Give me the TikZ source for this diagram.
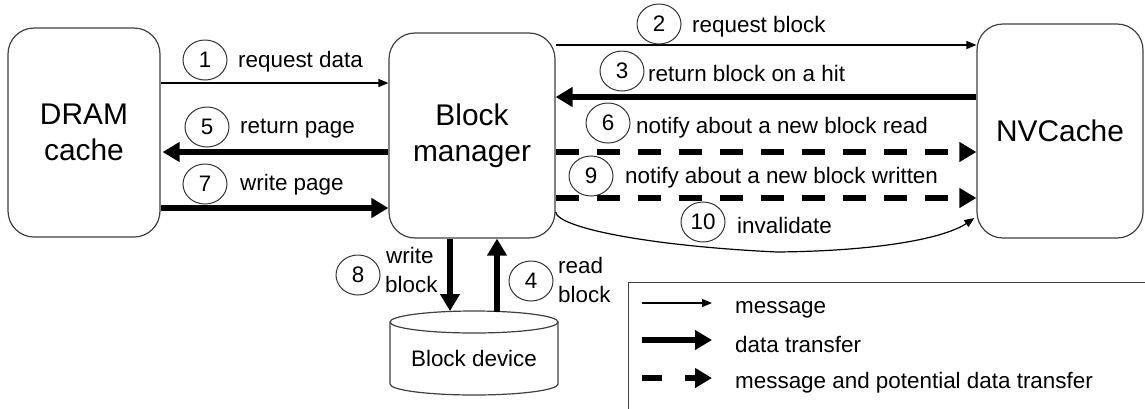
\documentclass[tikz,border=0pt]{standalone}
\usepackage{fontspec}
\setmainfont{Liberation Sans}
\usetikzlibrary{arrows.meta,shapes.geometric}
\begin{document}
\begin{tikzpicture}[x=1bp,y=-1bp,
  box/.style={draw=black!75, line width=1.2bp, rounded corners=26bp, inner sep=0pt, align=center, font=\fontsize{30}{36}\selectfont},
  num/.style={draw=black!80, line width=1bp, ellipse, minimum width=44bp, minimum height=40bp, inner sep=0pt, font=\fontsize{22.5}{26}\selectfont},
  lbl/.style={anchor=base west, inner sep=0pt, font=\fontsize{22.5}{26}\selectfont},
  msg/.style={line width=1.2bp, -{Triangle[length=10bp,width=8bp]}},
  data/.style={line width=6.5bp, -{Triangle[length=17bp,width=19bp]}},
  dashd/.style={data, dash pattern=on 23bp off 18bp},
  outline/.style={draw=black!75, line width=1.2bp}
]
\fill[white] (0,0) rectangle (1145,408);
\useasboundingbox (0,0) rectangle (1145,408);
\clip (0,0) rectangle (1145,408);

% main boxes
\node[box, minimum width=152bp, minimum height=209bp] (dram) at (84,132.5) {DRAM\\cache};
\node[box, minimum width=166bp, minimum height=205bp] (bm) at (472,135.5) {Block\\manager};
\node[box, minimum width=166bp, minimum height=214bp] (nv) at (1060,131) {NVCache};

% block device cylinder
\draw[outline] (390,322) -- (390,384) .. controls (390,390.08) and (427.6,395) .. (474,395)
  .. controls (520.4,395) and (558,390.08) .. (558,384) -- (558,322);
\draw[outline] (474,322) ellipse [x radius=84, y radius=11];
\node[font=\fontsize{22.5}{27}\selectfont] (bd) at (474,358) {Block device};
\coordinate (bd8) at (450,311);
\coordinate (bd4) at (497,312);

% connectors
\draw[msg] (dram.east |- 0,83) -- (bm.west |- 0,83);
\draw[data, shorten >=2bp] (bm.west |- 0,152) -- (dram.east |- 0,152);
\draw[data] (dram.east |- 0,208) -- (bm.west |- 0,208);
\draw[msg] (bm.east |- 0,45) -- (nv.west |- 0,45);
\draw[data] (nv.west |- 0,97) -- (bm.east |- 0,97);
\draw[dashd] (bm.east |- 0,152) -- (nv.west |- 0,152);
\draw[dashd] (bm.east |- 0,198) -- (nv.west |- 0,198);
\draw[msg] (bm.east |- 0,212) .. controls (558,228) and (650,246) .. (777,252)
  .. controls (880,251) and (945,238) .. ([xshift=-2bp]nv.west |- 0,218);
\draw[data] (bm.south -| bd8) -- (bd8);
\draw[data] (bd4) -- (bm.south -| bd4);

% step numbers and labels
\node[num] (n1) at (205,60) {1};
\node[lbl] (t1) at (238,67) {request data};
\node[num] (n5) at (207,127) {5};
\node[lbl] (t5) at (240,133) {return page};
\node[num] (n7) at (205,184) {7};
\node[lbl] (t7) at (240,190) {write page};
\node[num] (n2) at (659,24) {2};
\node[lbl] (t2) at (692,32) {request block};
\node[num] (n3) at (622,71) {3};
\node[lbl] (t3) at (648,81) {return block on a hit};
\node[num] (n6) at (608,123) {6};
\node[lbl] (t6) at (636,133) {notify about a new block read};
\node[num] (n9) at (591,176) {9};
\node[lbl] (t9) at (625,183) {notify about a new block written};
\node[num] (n10) at (703,222) {10};
\node[lbl] (t10) at (737,233) {invalidate};
\node[num] (n8) at (358,275) {8};
\node[lbl] (t8a) at (386,263) {write};
\node[lbl] (t8b) at (385,292) {block};
\node[num] (n4) at (531,281) {4};
\node[lbl] (t4a) at (558,273) {read};
\node[lbl] (t4b) at (558,302) {block};

% legend
\node[outline, draw, rectangle, inner sep=0pt, minimum width=560bp, minimum height=160bp, anchor=north west] (legend) at (628,282) {};
\coordinate (la1) at (642,303); \coordinate (lb1) at (712,303);
\coordinate (la2) at (642,340); \coordinate (lb2) at (712,340);
\coordinate (la3) at (642,378); \coordinate (lb3) at (712,378);
\draw[msg] (la1) -- (lb1);
\draw[data] (la2) -- (lb2);
\draw[data, dash pattern=on 20bp off 23bp] (la3) -- (lb3);
\node[lbl] (lt1) at (735,313) {message};
\node[lbl] (lt2) at (735,352) {data transfer};
\node[lbl] (lt3) at (735,388) {message and potential data transfer};
\end{tikzpicture}
\end{document}
